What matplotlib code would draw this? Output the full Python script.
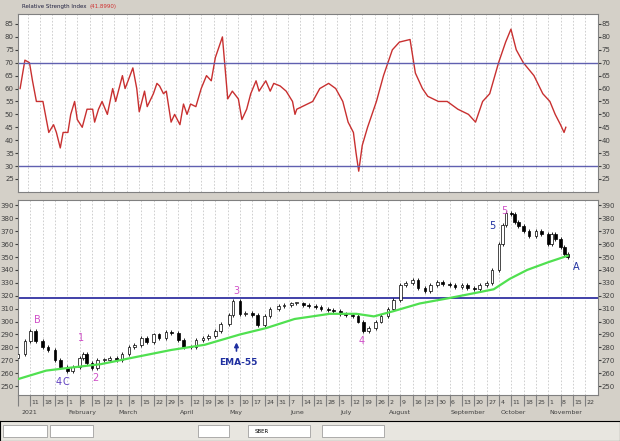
import matplotlib
matplotlib.use("Agg")
import matplotlib.pyplot as plt
import datetime as dt

# day-of-year (Jan 1 = 1) and closes
days = [4,8,11,14,18,21,25,28,32,35,39,41,43,46,49,53,56,60,63,67,70,74,77,81,84,88,91,95,98,102,105,109,112,116,119,124,126,130,133,137,140,144,147,152,155,159,162,166,169,173,176,180,183,187,190,194,197,200,203,207,210,214,217,221,224,228,231,235,238,242,245,249,252,256,259,263,266,270,273,277,279,281,284,286,288,291,294,298,301,305,307,309,312,314,316]
closes = [275,285,293,285,280,278,270,265,262,265,272,275,268,264,270,270,272,270,275,280,282,287,284,290,287,292,291,286,280,280,286,287,289,293,298,305,316,306,307,305,297,304,310,312,313,314,314,313,312,311,310,309,308,306,305,304,300,293,295,300,304,310,317,328,330,332,326,324,328,331,329,328,327,328,326,325,328,330,340,360,375,384,383,377,374,370,366,370,368,360,368,364,358,352,350]

ema_days = [3,20,32,51,69,91,110,130,145,161,181,196,206,217,232,248,263,274,283,293,305,316]
ema_vals = [255,262,264,267,272,278,282,290,295,302,306,306,304,308,314,318,322,325,333,340,346,351]

rsi_days = [6.7,9.4,12,13.7,15.9,19.6,22.9,25.6,27.2,29.4,31,33.7,35.3,37.5,39,41.8,44.5,47.7,48.8,51,53,56,59,60.7,64.5,66,67.7,70.4,72.6,74,77,78.5,82,84,85.5,87.7,89.3,92,94,97,99,101,103,106,109,112,114.7,117,121,124,126.6,130,132,134.7,137,140,141.7,145.5,148,150,153.6,157,160.6,162,163,
            172,176,181,185,189,192,195,196.5,198,200,203,208,212,217,221,227,230,234,237,243,248,254,260,264,268,272,277,281,284,287,291,297,302,306,309,312,314,315]
rsi_vals = [60,71,70,63,55,55,43,46,43,37,43,43,50,55,48,45,52,52,47,52,55,50,60,55,65,60,63,68,60,51,59,53,58,62,61,58,59,47,50,46,54,50,54,53,60,65,63,72,80,56,59,56,48,52,58,63,59,63,59,62,61,59,55,50,52,
            55,60,62,60,55,47,43,35,28,38,45,55,65,75,78,79,66,60,57,55,55,52,50,47,55,58,70,78,83,75,70,65,58,55,50,46,43,45]

resistance = 318
rsi_levels = [70, 30]

BG = '#d4d0c8'
fig = plt.figure(figsize=(6.2, 4.41), dpi=100, facecolor=BG)
axr = fig.add_axes([0.029, 0.565, 0.935, 0.404])
axp = fig.add_axes([0.029, 0.104, 0.935, 0.442])
xl = (5.5, 333)
mondays = list(range(4, 333, 7))

for ax in (axr, axp):
    ax.set_xlim(*xl)
    ax.set_facecolor('white')
    for d in mondays:
        ax.axvline(d, color='#c8c8c8', lw=0.6, ls=(0, (2, 2)), zorder=0)
    ax.tick_params(axis='y', which='both', labelsize=5, colors='#404040', left=True, right=True,
                   labelleft=True, labelright=True, length=2, pad=1)
    for s in ax.spines.values():
        s.set_color('#808080')

# RSI panel
axr.plot(rsi_days, rsi_vals, color='#c83030', lw=1.0)
for lv in rsi_levels:
    axr.axhline(lv, color='#6060b0', lw=1.0)
axr.set_ylim(20, 89)
axr.set_yticks(range(25, 90, 5))
axr.set_xticks([])
fig.text(0.035, 0.985, 'Relative Strength Index', fontsize=4, va='center', color='#202040')
fig.text(0.145, 0.985, '(41.8990)', fontsize=4, va='center', color='#d03030')

# Price panel
w = 1.6
for i in range(len(days)):
    o = closes[i - 1] if i > 0 else closes[0] - 3
    c = closes[i]
    lo, hi = min(o, c), max(o, c)
    fc = 'white' if c >= o else 'black'
    axp.vlines(days[i], lo - 1.5, hi + 1.5, color='black', lw=0.6, zorder=2)
    axp.bar(days[i], max(hi - lo, 0.8), bottom=lo, width=w, color=fc, edgecolor='black', lw=0.5, zorder=3)
axp.plot(ema_days, ema_vals, color='#50e050', lw=1.6, zorder=4)
axp.axhline(resistance, color='#4040a8', lw=1.4, zorder=1)
axp.set_ylim(243, 394)
axp.set_yticks(range(250, 391, 10))

pink = '#d050c8'
blue = '#2030a0'
for x, y, s, c in [(15, 301, 'B', pink), (40, 287, '1', pink), (48, 256, '2', pink), (128, 324, '3', pink),
                   (199, 285, '4', pink), (280, 386, '5', pink), (273, 374, '5', blue), (321, 342, 'A', blue)]:
    axp.text(x, y, s, color=c, fontsize=7, ha='center', va='center')
axp.text(27, 253, '4', color='#6040c0', fontsize=7, ha='center', va='center')
axp.text(31, 253, 'C', color='#6040c0', fontsize=7, ha='center', va='center')
axp.annotate('', xy=(128, 286), xytext=(128, 275),
             arrowprops=dict(arrowstyle='-|>', color=blue, lw=1.2, mutation_scale=6))
axp.text(129, 268, 'EMA-55', color=blue, fontsize=6.5, fontweight='bold', ha='center', va='center')

# date axis
axp.set_xticks(mondays)
axp.set_xticklabels([])
axp.tick_params(axis='x', length=8, color='#808080')
tr = axp.get_xaxis_transform()
for d in mondays:
    date = dt.date(2021, 1, 1) + dt.timedelta(days=d - 1)
    if d != 4:
        axp.text(d + 0.8, -0.025, str(date.day), transform=tr, fontsize=4.5, color='#404040', va='top', ha='left')
        if date.day <= 7:
            axp.text(d + 0.8, -0.075, date.strftime('%B'), transform=tr,
                     fontsize=4.5, color='#404040', va='top', ha='left')
axp.text(5.8, -0.075, '2021', transform=tr, fontsize=4.5, color='#404040', va='top')

# toolbar
tb = fig.add_axes([0, 0, 1, 0.045])
tb.set_facecolor('#e8e6e0')
tb.set_xticks([]); tb.set_yticks([])
for x0, wd in [(0.005, 0.07), (0.08, 0.07), (0.32, 0.05), (0.40, 0.1), (0.52, 0.1)]:
    tb.add_patch(plt.Rectangle((x0, 0.2), wd, 0.6, fc='white', ec='#909090', lw=0.5))
tb.set_xlim(0, 1); tb.set_ylim(0, 1)
tb.text(0.41, 0.5, 'SBER', fontsize=4, va='center')

fig.savefig('out.png', dpi=100, facecolor=BG)
